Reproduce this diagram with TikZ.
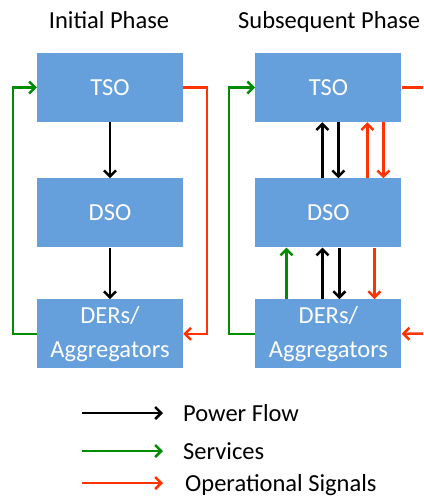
\documentclass[tikz,border=0pt]{standalone}
\usepackage{fontspec}
\setmainfont{Carlito}
\usetikzlibrary{arrows.meta,positioning}
\definecolor{boxblue}{RGB}{102,160,220}
\definecolor{svcgreen}{RGB}{0,140,0}
\definecolor{sigred}{RGB}{255,51,0}

\begin{document}
\begin{tikzpicture}[
    x=1pt, y=-1pt,
    node distance=56pt,
    entity/.style={rectangle, fill=boxblue, minimum width=146pt, minimum height=69pt, inner sep=0pt, text=white, align=center, font=\fontsize{24.5}{34}\selectfont},
    title/.style={font=\fontsize{24.5}{30}\selectfont, anchor=base, inner sep=0pt},
    legend/.style={font=\fontsize{24.5}{30}\selectfont, anchor=west, inner sep=0pt, text height=17pt, text depth=0pt},
    power/.style={-{Straight Barb[length=6pt,width=12pt]}, line width=2.5pt, black},
    service/.style={power, svcgreen},
    signal/.style={power, sigred}
]
\useasboundingbox (0,0) rectangle (423,497);
\clip (0,0) rectangle (423,497);

\node[title] (initial) at (109,29) {Initial Phase};
\node[title, anchor=base west] (subsequent) at (238,29) {Subsequent Phase};

% initial phase
\node[entity] (tso1) at (110,87.5) {TSO};
\node[entity, below=56pt of tso1] (dso1) {DSO};
\node[entity, below=51.5pt of dso1] (ders1) {DERs/\\Aggregators};

\draw[power] (tso1) -- (dso1);
\draw[power] (dso1) -- (ders1);
\draw[service] (ders1.west) -- ++(-24,0) |- (tso1.west);
\draw[signal] (tso1.east) -- ++(24,0) |- (ders1.east);

% subsequent phase
\node[entity, right=72pt of tso1] (tso2) {TSO};
\node[entity, below=56pt of tso2] (dso2) {DSO};
\node[entity, below=51.5pt of dso2] (ders2) {DERs/\\Aggregators};

\draw[power] ([xshift=-6pt]dso2.north) -- ([xshift=-6pt]tso2.south);
\draw[power] ([xshift=10pt]tso2.south) -- ([xshift=10pt]dso2.north);
\draw[signal] ([xshift=39pt]dso2.north) -- ([xshift=39pt]tso2.south);
\draw[signal] ([xshift=55pt]tso2.south) -- ([xshift=55pt]dso2.north);

\draw[service] ([xshift=-42pt]ders2.north) -- ([xshift=-42pt]dso2.south);
\draw[power] ([xshift=-6pt]ders2.north) -- ([xshift=-6pt]dso2.south);
\draw[power] ([xshift=11pt]dso2.south) -- ([xshift=11pt]ders2.north);
\draw[signal] ([xshift=46pt]dso2.south) -- ([xshift=46pt]ders2.north);

\draw[service] (ders2.west) -- ++(-26,0) |- (tso2.west);
\coordinate (tsoout) at (440,87.5);
\coordinate (dersin) at (440,333.5);
\draw[signal, -] (tso2.east) -- (tsoout);
\draw[signal] (dersin) -- (ders2.east);

% legend
\node[legend] (lpower) at (183,413) {Power Flow};
\node[legend] (lservice) at (183,451) {Services};
\node[legend] (lsignal) at (185,483) {Operational Signals};
\coordinate (lp) at (82,413);
\coordinate (ls) at (82,451);
\coordinate (lo) at (82,483);
\draw[power, shorten >=20pt] (lp) -- (lpower);
\draw[service, shorten >=20pt] (ls) -- (lservice);
\draw[signal, shorten >=22pt] (lo) -- (lsignal);
\end{tikzpicture}
\end{document}
